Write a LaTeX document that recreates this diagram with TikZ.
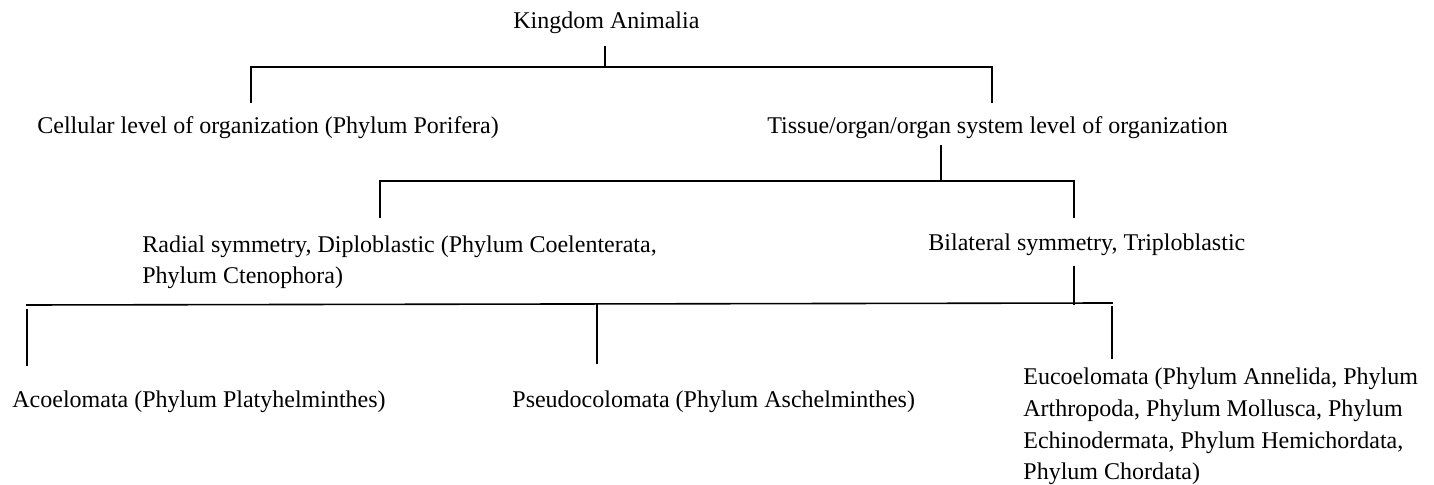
\documentclass[tikz,border=0pt]{standalone}
\usepackage{fontspec}
\setmainfont{Liberation Serif}
\begin{document}
\begin{tikzpicture}[x=0.5pt,y=-0.5pt,
  lbl/.style={inner sep=0pt, anchor=base west, font=\fontsize{12}{15.9}\selectfont, align=left},
  conn/.style={line width=0.8pt, line cap=rect}]
\useasboundingbox (0,0) rectangle (1434,485);
\node[lbl] (kingdom) at (513,29) {Kingdom Animalia};
\node[lbl] (cell) at (37,134) {Cellular level of organization (Phylum Porifera)};
\node[lbl] (tissue) at (767,134) {Tissue/organ/organ system level of organization};
% base anchor of a multi-line node sits on its last line
\node[lbl] (radial) at (142,284) {Radial symmetry, Diploblastic (Phylum Coelenterata,\\Phylum Ctenophora)};
\node[lbl] (bilat) at (928,251) {Bilateral symmetry, Triploblastic};
\node[lbl] (acoel) at (12,408) {Acoelomata (Phylum Platyhelminthes)};
\node[lbl] (pseudo) at (512,408) {Pseudocolomata (Phylum Aschelminthes)};
\node[lbl] (eucoel) at (1023,480) {Eucoelomata (Phylum Annelida, Phylum\\Arthropoda, Phylum Mollusca, Phylum\\Echinodermata, Phylum Hemichordata,\\Phylum Chordata)};
% level 1
\coordinate (k1) at (605,47);
\coordinate (k2) at (605,67);
\coordinate (kl) at (251,67);
\coordinate (kr) at (992,67);
\coordinate (c1) at (251,102);
\coordinate (t1) at (992,102);
\draw[conn] (k1) -- (k2);
\draw[conn] (c1) -- (kl) -- (kr) -- (t1);
% level 2
\coordinate (t2) at (941,146);
\coordinate (t3) at (941,181);
\coordinate (tl) at (380,181);
\coordinate (tr) at (1074,181);
\coordinate (r1) at (380,217);
\coordinate (b1) at (1074,217);
\draw[conn] (t2) -- (t3);
\draw[conn] (r1) -- (tl) -- (tr) -- (b1);
% level 3
\coordinate (b2) at (1074,267);
\coordinate (b3) at (1074,304);
\coordinate (bl) at (27,305);
\coordinate (br) at (1112,303);
\coordinate (a0) at (27,310);
\coordinate (a1) at (27,365);
\coordinate (p0) at (597,305);
\coordinate (p1) at (597,363);
\coordinate (e0) at (1112,307);
\coordinate (e1) at (1112,358);
\draw[conn] (b2) -- (b3);
\draw[conn] (bl) -- (br);
\draw[conn] (a0) -- (a1);
\draw[conn] (p0) -- (p1);
\draw[conn] (e0) -- (e1);
\end{tikzpicture}
\end{document}
